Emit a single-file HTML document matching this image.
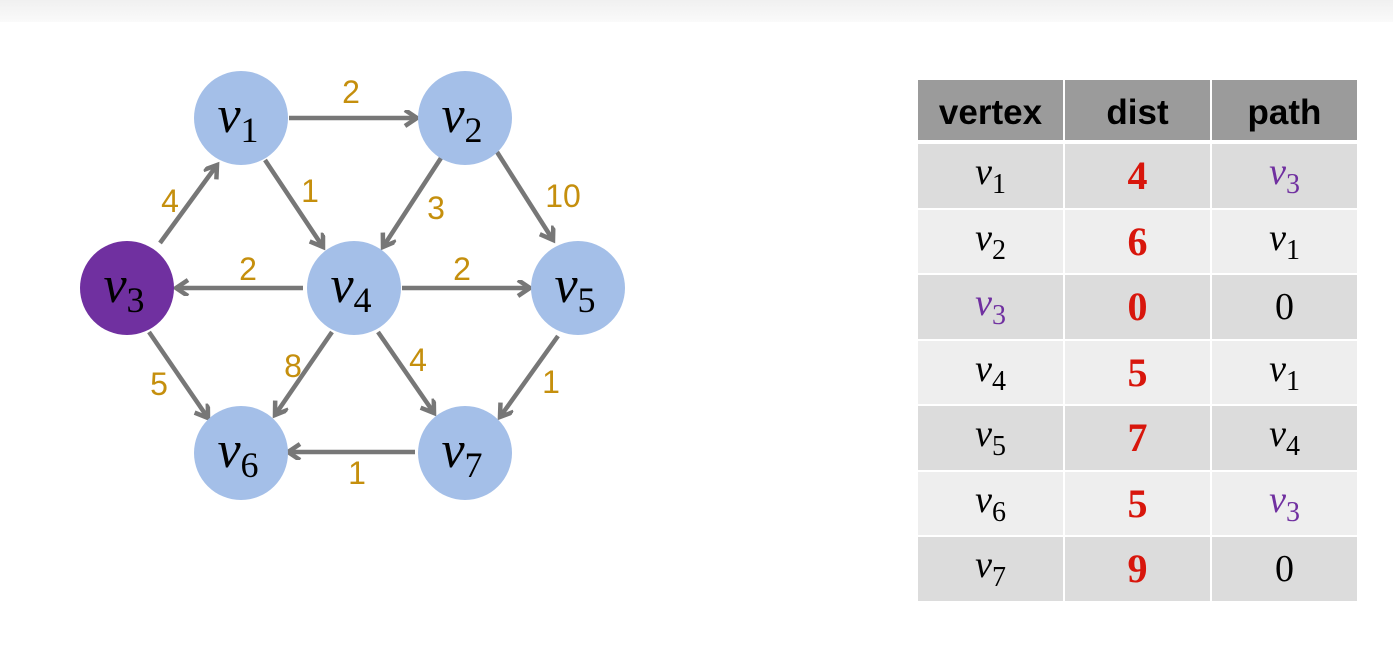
<!DOCTYPE html>
<html><head><style>
body{margin:0;width:1393px;height:650px;background:#fff;position:relative;overflow:hidden;font-family:"Liberation Sans",sans-serif}
.top{position:absolute;left:0;top:0;width:1393px;height:22px;background:linear-gradient(#f0f0f0,#fafafa)}
svg{position:absolute;left:0;top:0}
table{position:absolute;left:916px;top:78px;border-collapse:separate;border-spacing:2px 2px}
td,th{width:145px;text-align:center;padding:0}
th{height:62px;background:#9b9b9b;font-weight:bold;font-size:35px;color:#000;padding-top:6px;box-sizing:border-box;border-bottom:2px solid #fff}
td{height:63.5px;font-size:38px;box-sizing:border-box}
tr.a td{background:#dcdcdc}tr.b td{background:#eeeeee}
.v{font-family:"Liberation Serif",serif;font-style:italic}
.v sub{font-style:normal;font-size:28px;vertical-align:-9px}
.d{color:#d8160c;font-weight:bold;font-family:"Liberation Serif",serif;font-size:40px}
.p{color:#7030a0}
.n{font-family:"Liberation Serif",serif}
</style></head><body>
<div class="top"></div>
<svg width="1393" height="650" viewBox="0 0 1393 650">
<defs><marker id="ah" markerWidth="18" markerHeight="18" refX="14" refY="8" orient="auto" markerUnits="userSpaceOnUse"><path d="M2,0 L14,8 L2,16" fill="none" stroke="#777" stroke-width="4.5"/></marker></defs>
<g stroke="#777" stroke-width="4.5" marker-end="url(#ah)">
<line x1="289" y1="118" x2="417" y2="118"/>
<line x1="160" y1="243" x2="217" y2="165"/>
<line x1="265" y1="160" x2="323" y2="247"/>
<line x1="441" y1="158" x2="383" y2="247"/>
<line x1="497" y1="152" x2="553" y2="240"/>
<line x1="303" y1="288" x2="176" y2="288"/>
<line x1="402" y1="288" x2="530" y2="288"/>
<line x1="149" y1="332" x2="208" y2="418"/>
<line x1="332" y1="332" x2="275" y2="415"/>
<line x1="378" y1="332" x2="434" y2="413"/>
<line x1="558" y1="336" x2="500" y2="417"/>
<line x1="415" y1="452" x2="288" y2="452"/>
</g>
<g fill="#a4bfe8">
<circle cx="241" cy="118" r="47"/><circle cx="465" cy="118" r="47"/>
<circle cx="354" cy="288" r="47"/><circle cx="578" cy="288" r="47"/>
<circle cx="241" cy="453" r="47"/><circle cx="465" cy="453" r="47"/>
</g>
<circle cx="127" cy="288" r="47" fill="#7030a0"/>
<g font-family="Liberation Serif,serif" font-size="52" text-anchor="middle" fill="#000">
<text x="238" y="132"><tspan font-style="italic">v</tspan><tspan font-size="36" dy="10">1</tspan></text>
<text x="462" y="132"><tspan font-style="italic">v</tspan><tspan font-size="36" dy="10">2</tspan></text>
<text x="124" y="302"><tspan font-style="italic">v</tspan><tspan font-size="36" dy="10">3</tspan></text>
<text x="351" y="302"><tspan font-style="italic">v</tspan><tspan font-size="36" dy="10">4</tspan></text>
<text x="575" y="302"><tspan font-style="italic">v</tspan><tspan font-size="36" dy="10">5</tspan></text>
<text x="238" y="467"><tspan font-style="italic">v</tspan><tspan font-size="36" dy="10">6</tspan></text>
<text x="462" y="467"><tspan font-style="italic">v</tspan><tspan font-size="36" dy="10">7</tspan></text>
</g>
<g font-family="Liberation Sans,sans-serif" font-size="32" fill="#c58f0d" text-anchor="middle">
<text x="351" y="103">2</text><text x="170" y="212">4</text><text x="310" y="202">1</text>
<text x="436" y="219">3</text><text x="563" y="207">10</text><text x="248" y="280">2</text>
<text x="462" y="280">2</text><text x="159" y="395">5</text><text x="293" y="377">8</text>
<text x="418" y="371">4</text><text x="551" y="393">1</text><text x="357" y="484">1</text>
</g>
</svg>
<table>
<tr><th>vertex</th><th>dist</th><th>path</th></tr>
<tr class="a"><td class="v">v<sub>1</sub></td><td class="d">4</td><td class="v p">v<sub>3</sub></td></tr>
<tr class="b"><td class="v">v<sub>2</sub></td><td class="d">6</td><td class="v">v<sub>1</sub></td></tr>
<tr class="a"><td class="v p">v<sub>3</sub></td><td class="d">0</td><td class="n">0</td></tr>
<tr class="b"><td class="v">v<sub>4</sub></td><td class="d">5</td><td class="v">v<sub>1</sub></td></tr>
<tr class="a"><td class="v">v<sub>5</sub></td><td class="d">7</td><td class="v">v<sub>4</sub></td></tr>
<tr class="b"><td class="v">v<sub>6</sub></td><td class="d">5</td><td class="v p">v<sub>3</sub></td></tr>
<tr class="a"><td class="v">v<sub>7</sub></td><td class="d">9</td><td class="n">0</td></tr>
</table>
</body></html>
